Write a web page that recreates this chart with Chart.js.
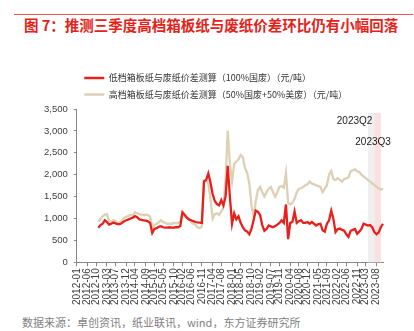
<!DOCTYPE html>
<html>
<head>
<meta charset="utf-8">
<script src="https://cdn.jsdelivr.net/npm/chart.js@4.4.0/dist/chart.umd.min.js"></script>
<style>
    body { margin: 0; width: 414px; height: 331px; background: #fff; position: relative; overflow: hidden; font-family: 'Noto Sans CJK SC', sans-serif; }
    .topline { position: absolute; left: 14px; top: 14px; width: 399px; height: 1px; background: #e35a55; }
    .title { position: absolute; left: 24px; top: 17px; font-size: 14.5px; line-height: 16px; font-weight: bold; color: #e2231a; white-space: nowrap; }
    .chart-box { position: absolute; left: 0; top: 60px; width: 414px; height: 251px; }
    .source { position: absolute; left: 22px; top: 314px; font-size: 11px; line-height: 16px; color: #7f7f7f; white-space: nowrap; }
</style>
</head>
<body>
<div class="topline"></div>
<div class="title">图 7：推测三季度高档箱板纸与废纸价差环比仍有小幅回落</div>
<div class="chart-box"><canvas id="myChart"></canvas></div>
<div class="source">数据来源：卓创资讯，纸业联讯，wind，东方证券研究所</div>
<script>
// 月份（2012-01 ～ 2023-11）
const months = [];
for (let y = 2012; y <= 2023; y++) {
    for (let m = 1; m <= 12; m++) {
        if (y === 2023 && m > 11) break;
        months.push(y + '-' + String(m).padStart(2, '0'));
    }
}

// x轴显示的刻度
const tickLabels = ['2012-01', '2012-06', '2012-10', '2013-03', '2013-07', '2013-12', '2014-04', '2014-09',
    '2015-01', '2015-05', '2015-10', '2016-02', '2016-06', '2016-11', '2017-04', '2017-08',
    '2018-01', '2018-05', '2018-10', '2019-02', '2019-07', '2019-11', '2020-04', '2020-08',
    '2020-12', '2021-05', '2021-09', '2022-02', '2022-06', '2022-11', '2023-03', '2023-08'];

// 数据从 2012-11 开始
const seriesStart = '2012-11';

// 低档箱板纸与废纸价差（100%国废），元/吨
const lowGrade = [
    790, 850, 880, 960, 920, 860, 880, 910, 890, 870,
    870, 900, 940, 960, 980, 1000, 1020, 1055, 1030, 980,
    970, 960, 950, 935, 900, 670, 760, 780, 810, 825,
    800, 790, 790, 800, 790, 790, 800, 800, 830, 1140,
    1080, 1020, 980, 960, 940, 920, 910, 905, 900, 1850,
    1880, 2030, 1820, 1560, 1400, 1330, 1300, 1420, 1300, 1500,
    2200, 1500, 880, 1120, 980, 1050, 900, 800, 730, 700,
    640, 760, 960, 1180, 1150, 1080, 850, 720, 760, 840,
    820, 800, 830, 860, 900, 960, 900, 1320, 530, 900,
    920, 1160, 900, 940, 960, 900, 900, 920, 880, 920,
    880, 840, 870, 880, 730, 700, 880, 960, 1180, 990,
    690, 760, 770, 740, 720, 640, 580, 720, 740, 760,
    650, 700, 760, 880, 860, 840, 850, 800, 690, 640,
    680, 800, 880
];

// 高档箱板纸与废纸价差（50%国废+50%美废），元/吨
const highGrade = [
    930, 1000, 1050, 1090, 1100, 940, 920, 960, 940, 900,
    910, 960, 1020, 1040, 1060, 1080, 1080, 1140, 1120, 1100,
    1090, 1080, 1085, 1080, 1040, 780, 850, 880, 910, 960,
    920, 900, 880, 880, 880, 900, 890, 900, 940, 1150,
    1100, 1040, 980, 920, 880, 860, 800, 780, 820, 1840,
    1860, 1800, 1450, 1000, 1100, 1120, 1080, 1160, 1250, 1900,
    3000, 2250, 1850, 2250, 2300, 2350, 2450, 2400, 2150, 2050,
    1800, 1300, 1040, 1400, 1650, 1720, 1600, 1500, 1600, 1680,
    1720, 1600, 1500, 1600, 1720, 1740, 1700, 2040, 1360, 1320,
    1360, 1450, 1600, 1680, 1690, 1720, 1760, 1780, 1840, 1800,
    1780, 1760, 1740, 1720, 1600, 1680, 1760, 2000, 2080, 1900,
    1880, 1920, 1880, 1840, 1900, 1920, 1940, 2080, 2100, 2120,
    2080, 2060, 2000, 1960, 1920, 1880, 1840, 1800, 1760, 1720,
    1690, 1660, 1680
];

// 标注的季度区间
const quarterNames = ['2023Q2', '2023Q3'];
const quarterFrom = ['2023-04', '2023-07'];
const quarterTo = ['2023-07', '2023-10'];

const pad = new Array(months.indexOf(seriesStart)).fill(null);

const bandStyle = [
    { fill: '#efefef', dx: -2, dy: 12.5 },
    { fill: '#f9e1e1', dx: 10, dy: 33.5 }
];

const quarterBands = {
    id: 'quarterBands',
    beforeDatasetsDraw(chart) {
        const { ctx, chartArea, scales: { x } } = chart;
        ctx.save();
        quarterNames.forEach((name, i) => {
            const x0 = x.getPixelForValue(months.indexOf(quarterFrom[i]));
            const x1 = x.getPixelForValue(months.indexOf(quarterTo[i]));
            ctx.fillStyle = bandStyle[i].fill;
            ctx.fillRect(x0, chartArea.top + 4, x1 - x0, chartArea.bottom - chartArea.top - 4);
        });
        ctx.restore();
    },
    afterDatasetsDraw(chart) {
        const { ctx, chartArea, scales: { x } } = chart;
        ctx.save();
        ctx.font = "10px 'Liberation Sans', Arial, sans-serif";
        ctx.fillStyle = '#1a1a1a';
        ctx.textAlign = 'right';
        ctx.textBaseline = 'middle';
        quarterNames.forEach((name, i) => {
            const x1 = x.getPixelForValue(months.indexOf(quarterTo[i]));
            ctx.fillText(name, x1 + bandStyle[i].dx, chartArea.top + bandStyle[i].dy);
        });
        ctx.restore();
    }
};

document.addEventListener("DOMContentLoaded", function() {
    const ctx = document.getElementById('myChart').getContext('2d');

    const data = {
        labels: months,
        datasets: [
            {
                label: '低档箱板纸与废纸价差测算（100%国废）（元/吨）',
                data: pad.concat(lowGrade),
                borderColor: '#e8201c',
                backgroundColor: '#e8201c',
                borderWidth: 2.3,
                pointRadius: 0,
                pointStyle: 'line',
                tension: 0
            },
            {
                label: '高档箱板纸与废纸价差测算（50%国废+50%美废）（元/吨）',
                data: pad.concat(highGrade),
                borderColor: '#ddd0b4',
                backgroundColor: '#ddd0b4',
                borderWidth: 2.3,
                pointRadius: 0,
                pointStyle: 'line',
                tension: 0
            }
        ]
    };

    const config = {
        type: 'line',
        data: data,
        options: {
            responsive: true,
            maintainAspectRatio: false,
            animation: false,
            layout: {
                padding: { top: 6, left: 38, right: 31, bottom: 4 }
            },
            scales: {
                x: {
                    grid: {
                        display: true,
                        drawOnChartArea: false,
                        tickLength: 4,
                        tickColor: '#888'
                    },
                    border: { display: true, color: '#888', width: 1 },
                    ticks: {
                        autoSkip: false,
                        minRotation: 90,
                        maxRotation: 90,
                        padding: 2,
                        color: '#404040',
                        font: { family: "'Liberation Sans', Arial, sans-serif", size: 10 },
                        callback: function(value) {
                            const lab = this.getLabelForValue(value);
                            return tickLabels.includes(lab) ? lab : null;  // 其他月份不显示
                        }
                    }
                },
                y: {
                    min: 0,
                    max: 3500,
                    grid: {
                        display: true,
                        drawOnChartArea: false,
                        tickLength: 3,
                        tickColor: '#888'
                    },
                    border: { display: true, color: '#888', width: 1 },
                    ticks: {
                        stepSize: 500,
                        padding: 6,
                        color: '#404040',
                        font: { family: "'Liberation Sans', Arial, sans-serif", size: 9.5 },
                        callback: (v) => v.toLocaleString('en-US')
                    }
                }
            },
            plugins: {
                legend: {
                    position: 'top',
                    align: 'start',
                    fullSize: false,
                    labels: {
                        usePointStyle: true,
                        pointStyleWidth: 20,
                        padding: 7.5,
                        color: '#333',
                        font: { family: "'Noto Sans CJK SC', sans-serif", size: 9 }
                    }
                },
                tooltip: { enabled: false }
            }
        },
        plugins: [quarterBands]
    };

    const myChart = new Chart(ctx, config);
});
</script>
</body>
</html>
